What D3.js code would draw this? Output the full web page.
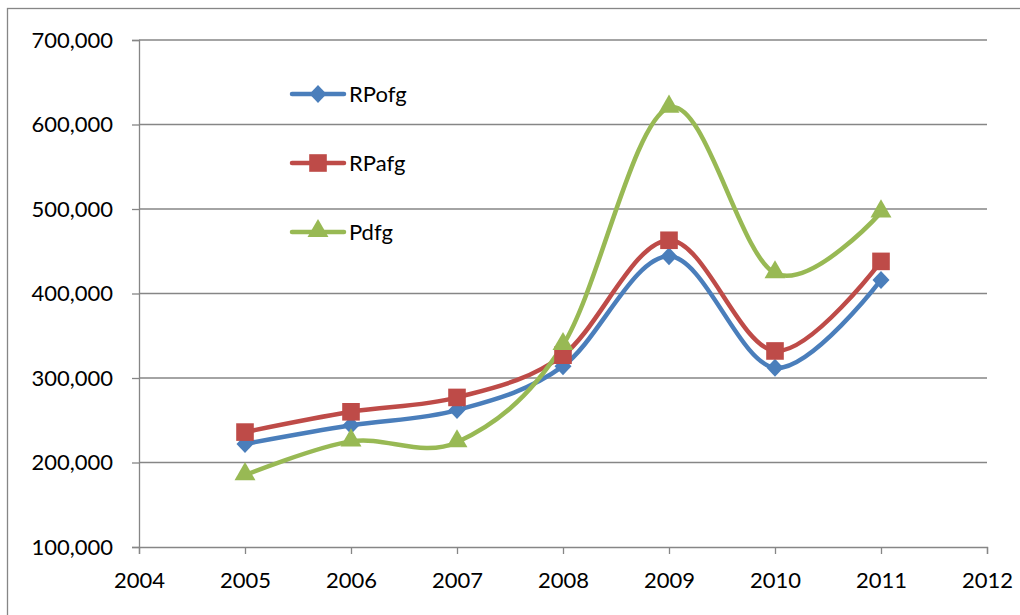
<!DOCTYPE html>
<html><head><meta charset="utf-8">
<script src="https://cdn.jsdelivr.net/npm/d3@7"></script>
<style>body{margin:0;background:#fff}svg{display:block}</style>
</head><body>
<script>
const years = [2005, 2006, 2007, 2008, 2009, 2010, 2011];
const seriesNames = ["RPofg", "RPafg", "Pdfg"];
const rpofg = [222000, 244000, 262000, 314000, 444000, 312000, 416000];
const rpafg = [236000, 260000, 277000, 327000, 463000, 332000, 438000];
const pdfg  = [185000, 225000, 224000, 339000, 620000, 424000, 496000];
const xTicks = [2004, 2005, 2006, 2007, 2008, 2009, 2010, 2011, 2012];
const yTicks = [100000, 200000, 300000, 400000, 500000, 600000, 700000];

const W = 1020, H = 615;
const svg = d3.select("body").append("svg").attr("width", W).attr("height", H);
const font = "Lato, 'Open Sans', sans-serif";
const fs = 22;
const grey = "#868686";

svg.append("rect").attr("x", 7.5).attr("y", 8.5).attr("width", W).attr("height", H)
  .attr("fill", "none").attr("stroke", grey).attr("stroke-width", 1.3);

const x = d3.scaleLinear().domain([2004, 2012]).range([139, 987]);
const y = d3.scaleLinear().domain([100000, 700000]).range([547, 40]);

// gridlines
svg.append("g").selectAll("line").data(yTicks.slice(1)).join("line")
  .attr("x1", x(2004)).attr("x2", x(2012))
  .attr("y1", d => y(d)).attr("y2", d => y(d))
  .attr("stroke", grey).attr("stroke-width", 1.3);

const fmt = d3.format(",");
const yAxis = svg.append("g").attr("transform", `translate(${x(2004)},0)`)
  .call(d3.axisLeft(y).tickValues(yTicks).tickFormat(fmt).tickSize(7).tickPadding(19));
const xAxis = svg.append("g").attr("transform", `translate(0,${y(100000)})`)
  .call(d3.axisBottom(x).tickValues(xTicks).tickFormat(d3.format("d")).tickSize(7).tickPadding(18));
[yAxis, xAxis].forEach(a => {
  a.select(".domain").attr("stroke", grey).attr("stroke-width", 1.3);
  a.selectAll(".tick line").attr("stroke", grey).attr("stroke-width", 1.3);
  a.selectAll("text").attr("font-family", font).attr("font-size", fs).attr("fill", "#000");
});

const colors = ["#4a7ebb", "#be4b48", "#98b954"];
const data = [rpofg, rpafg, pdfg];
const line = d3.line().x((d, i) => x(years[i])).y(d => y(d)).curve(d3.curveCatmullRom.alpha(0));

const markerPath = [
  "M0,-9L8.5,0L0,9L-8.5,0Z",
  d3.symbol().type(d3.symbolSquare).size(310)(),
  d3.symbol().type(d3.symbolTriangle).size(190)()
];

data.forEach((vals, s) => {
  svg.append("path").attr("d", line(vals)).attr("fill", "none")
    .attr("stroke", colors[s]).attr("stroke-width", 4.5).attr("stroke-linecap", "round");
});
data.forEach((vals, s) => {
  svg.append("g").selectAll("path").data(vals).join("path")
    .attr("d", markerPath[s])
    .attr("transform", (d, i) => `translate(${x(years[i])},${y(d) + (s === 2 ? -1 : 0)})`)
    .attr("fill", colors[s]);
});

// legend
const legY = [94, 163, 232];
seriesNames.forEach((n, s) => {
  const g = svg.append("g").attr("transform", `translate(0,${legY[s]})`);
  g.append("line").attr("x1", 292).attr("x2", 344).attr("y1", 0).attr("y2", 0)
    .attr("stroke", colors[s]).attr("stroke-width", 4.5).attr("stroke-linecap", "round");
  g.append("path").attr("d", markerPath[s]).attr("transform", `translate(318,${s === 2 ? -1 : 0})`).attr("fill", colors[s]);
  g.append("text").attr("x", 349).attr("y", 8).text(n)
    .attr("font-family", font).attr("font-size", fs).attr("fill", "#000");
});
</script>
</body></html>
